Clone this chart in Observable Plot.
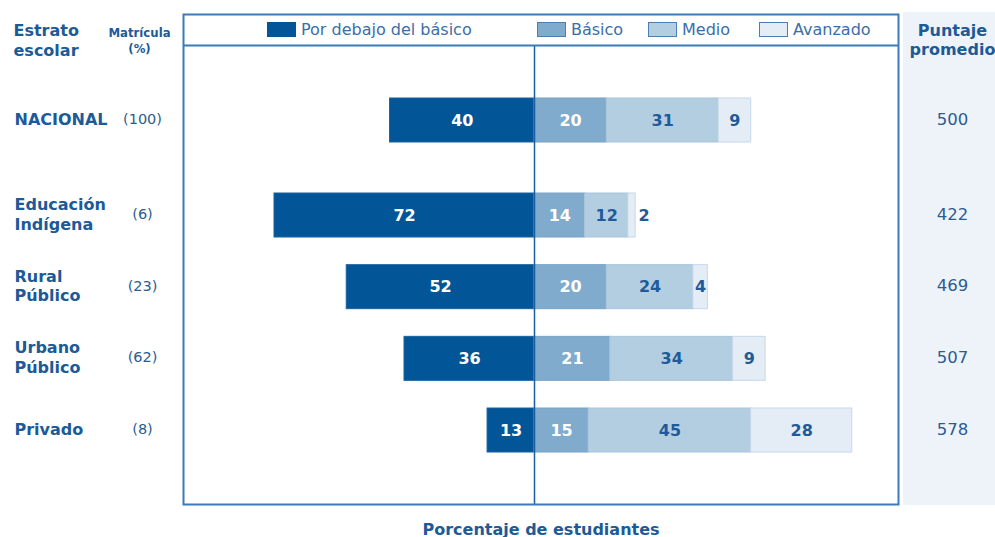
<!DOCTYPE html>
<html><head><meta charset="utf-8">
<script src="https://cdn.jsdelivr.net/npm/d3@7"></script>
<script src="https://cdn.jsdelivr.net/npm/@observablehq/plot@0.6"></script>
<style>
body{margin:0;background:#fff;}
#wrap{position:relative;width:995px;height:537px;overflow:hidden;font-family:"DejaVu Sans",Verdana,sans-serif;}
#panel{position:absolute;left:903px;top:12px;width:92px;height:493px;background:#eef3fa;}
#chart{position:absolute;left:0;top:0;}
.leg{position:absolute;top:21px;height:17px;display:flex;align-items:center;font-size:16px;color:#3a6ea8;white-space:nowrap;}
.sw{width:27px;height:13px;margin-right:5px;border:1px solid;}
</style></head><body>
<div id="wrap"><div id="panel"></div><div id="chart"></div><div id="legend"></div></div>
<script>
// ---- data ----
const strata = ["NACIONAL", "Educación\nIndígena", "Rural\nPúblico", "Urbano\nPúblico", "Privado"];
const matricula = [100, 6, 23, 62, 8];
const porDebajo = [40, 72, 52, 36, 13];
const basico = [20, 14, 20, 21, 15];
const medio = [31, 12, 24, 34, 45];
const avanzado = [9, 2, 4, 9, 28];
const puntaje = [500, 422, 469, 507, 578];
const levels = ["Por debajo del básico", "Básico", "Medio", "Avanzado"];

// ---- styling ----
const fills = ["#025596", "#80abcc", "#b3cde1", "#e4edf6"];
const strokes = ["#1a62a0", "#77a3c6", "#a8c5dd", "#c6d8ea"];
const labelFills = ["#ffffff", "#ffffff", "#1f5b99", "#1f5b99"];
const textColor = "#1c5a98";
const lineColor = "#3b7bb9";

// ---- layout (row coordinate: extra gap after the national row) ----
const rowPos = i => i === 0 ? 0 : i + 0.3256;
const half = 0.307;
const sepY = -1.0465;

const segs = [];
strata.forEach((s, i) => {
  const vals = [porDebajo[i], basico[i], medio[i], avanzado[i]];
  const starts = [-porDebajo[i], 0, basico[i], basico[i] + medio[i]];
  vals.forEach((v, k) => {
    segs.push({stratum: s, level: k, value: v, x1: starts[k], x2: starts[k] + v, r: rowPos(i)});
  });
});

const rows = strata.map((s, i) => ({label: s, mat: matricula[i], pts: puntaje[i], r: rowPos(i)}));

const marks = [];
levels.forEach((lv, k) => {
  const data = segs.filter(d => d.level === k);
  marks.push(Plot.rect(data, {x1: "x1", x2: "x2", y1: d => d.r - half, y2: d => d.r + half, fill: fills[k], stroke: strokes[k], strokeWidth: 1}));
  marks.push(Plot.text(data.filter(d => d.value >= 3), {x: d => (d.x1 + d.x2) / 2, y: "r", text: d => String(d.value), fill: labelFills[k], fontWeight: "bold", fontSize: 16}));
  marks.push(Plot.text(data.filter(d => d.value < 3), {x: "x2", y: "r", text: d => String(d.value), fill: "#1f5b99", fontWeight: "bold", fontSize: 16, textAnchor: "start", dx: 3}));
});

marks.push(Plot.ruleX([0], {y1: sepY, y2: 5.358, stroke: "#1a5ea0", strokeWidth: 1.5}));
marks.push(Plot.ruleY([sepY], {stroke: lineColor, strokeWidth: 2}));
marks.push(Plot.frame({stroke: lineColor, strokeWidth: 2}));

// row labels
marks.push(Plot.text(rows, {y: "r", text: "label", frameAnchor: "left", dx: -169, dy: -2, textAnchor: "start", fontWeight: "bold", fontSize: 16, lineHeight: 1.22, fill: textColor}));
marks.push(Plot.text(rows, {y: "r", text: d => `(${d.mat})`, frameAnchor: "left", dx: -41, dy: -1, textAnchor: "middle", fontSize: 14.5, fill: "#2b5c92"}));
marks.push(Plot.text(rows, {y: "r", text: d => String(d.pts), frameAnchor: "right", dx: 54, dy: -1, textAnchor: "middle", fontSize: 16.5, fill: "#2b5c92"}));

// headers
marks.push(Plot.text(["Estrato\nescolar"], {frameAnchor: "top-left", dx: -170, dy: 7, lineAnchor: "top", textAnchor: "start", fontWeight: "bold", fontSize: 16, lineHeight: 1.25, fill: textColor}));
marks.push(Plot.text(["Matrícula\n(%)"], {frameAnchor: "top-left", dx: -44, dy: 10, lineAnchor: "top", textAnchor: "middle", fontWeight: "bold", fontSize: 13, lineHeight: 1.3, fill: textColor, fontFamily: "DejaVu Sans Condensed", fontStretch: "condensed"}));
marks.push(Plot.text(["Puntaje\npromedio"], {frameAnchor: "top-right", dx: 54, dy: 8, lineAnchor: "top", textAnchor: "middle", fontWeight: "bold", fontSize: 16, lineHeight: 1.2, fill: textColor}));
marks.push(Plot.text(["Porcentaje de estudiantes"], {frameAnchor: "bottom", dy: 30, fontWeight: "bold", fontSize: 16, fill: textColor}));

const chart = Plot.plot({
  width: 995, height: 537,
  marginLeft: 183, marginRight: 97, marginTop: 14, marginBottom: 33,
  x: {domain: [-97.2, 100.8], axis: null},
  y: {domain: [5.358, -1.479], axis: null},
  style: {background: "transparent", fontFamily: "'DejaVu Sans', Verdana, sans-serif", fontSize: "16px"},
  marks
});
document.getElementById("chart").appendChild(chart);

// legend
const legLeft = [267, 537, 648, 759];
const legendEl = document.getElementById("legend");
levels.forEach((lv, k) => {
  const item = document.createElement("div");
  item.className = "leg";
  item.style.left = legLeft[k] + "px";
  const sw = document.createElement("span");
  sw.className = "sw";
  sw.style.background = fills[k];
  sw.style.borderColor = k === 0 ? fills[0] : "#4a7fb5";
  item.appendChild(sw);
  item.appendChild(document.createTextNode(lv));
  legendEl.appendChild(item);
});
</script>
</body></html>
